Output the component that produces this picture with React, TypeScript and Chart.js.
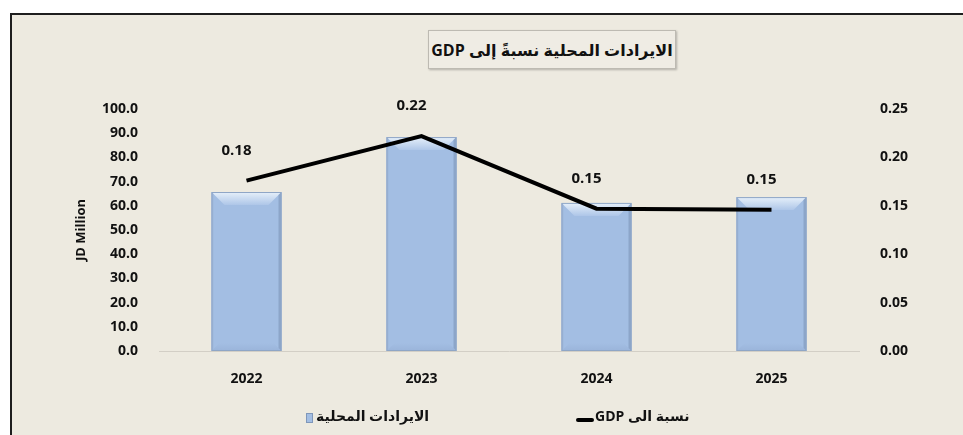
import React, { useEffect, useRef } from "react";
import { Chart, registerables } from "chart.js";

Chart.register(...registerables);

// ---- data ----
const categories = ["2022", "2023", "2024", "2025"];
const revenueValues = [65.7, 88.4, 61.2, 63.6];
const gdpRatioValues = [0.176, 0.222, 0.147, 0.146];
const revenueLabel = "الايرادات المحلية";
const ratioLabel = "نسبة الى GDP";
const titleText = "الايرادات المحلية نسبةً إلى GDP";
const yAxisTitle = "JD Million";
const leftAxisRange = [0, 100, 10];
const rightAxisRange = [0, 0.25, 0.05];

const FONT = "'Open Sans', 'DejaVu Sans', sans-serif";
const BAR_COLOR = "#A3BEE3";

const bevelPlugin = {
  id: "bevel",
  afterDatasetDraw(chart: any, args: any) {
    if (args.index !== 0) return;
    const ctx = chart.ctx;
    const meta = chart.getDatasetMeta(0);
    meta.data.forEach((bar: any) => {
      const { x, y, base, width } = bar.getProps(["x", "y", "base", "width"], true);
      const l = x - width / 2;
      const r = x + width / 2;
      const t = y;
      const b = base;
      const bt = 13;
      ctx.save();
      // top bevel
      const g = ctx.createLinearGradient(0, t, 0, t + bt);
      g.addColorStop(0, "#E6F0FA");
      g.addColorStop(1, "#AEC6E8");
      ctx.fillStyle = g;
      ctx.beginPath();
      ctx.moveTo(l, t);
      ctx.lineTo(r, t);
      ctx.lineTo(r - bt, t + bt);
      ctx.lineTo(l + bt, t + bt);
      ctx.closePath();
      ctx.fill();
      // bottom bevel
      const gb = ctx.createLinearGradient(0, b - 8, 0, b);
      gb.addColorStop(0, "#A3BEE3");
      gb.addColorStop(1, "#9AB4DA");
      ctx.fillStyle = gb;
      ctx.beginPath();
      ctx.moveTo(l, b);
      ctx.lineTo(r, b);
      ctx.lineTo(r - 8, b - 8);
      ctx.lineTo(l + 8, b - 8);
      ctx.closePath();
      ctx.fill();
      // right strip
      ctx.fillStyle = "#8CA5C9";
      ctx.beginPath();
      ctx.moveTo(r, t);
      ctx.lineTo(r, b);
      ctx.lineTo(r - 3, b - 3);
      ctx.lineTo(r - 3, t + 3);
      ctx.closePath();
      ctx.fill();
      // left strip
      ctx.fillStyle = "#9DB7DC";
      ctx.beginPath();
      ctx.moveTo(l, t);
      ctx.lineTo(l, b);
      ctx.lineTo(l + 2, b - 2);
      ctx.lineTo(l + 2, t + 2);
      ctx.closePath();
      ctx.fill();
      ctx.strokeStyle = "#8FA6C6";
      ctx.lineWidth = 1;
      ctx.strokeRect(l + 0.5, t + 0.5, width - 1, b - t - 1);
      ctx.restore();
    });
  },
};

const labelPlugin = {
  id: "pointLabels",
  afterDatasetsDraw(chart: any) {
    const ctx = chart.ctx;
    const meta = chart.getDatasetMeta(1);
    const data = chart.data.datasets[1].data as number[];
    ctx.save();
    ctx.font = `bold 15px ${FONT}`;
    ctx.fillStyle = "#111";
    ctx.textAlign = "center";
    ctx.textBaseline = "middle";
    meta.data.forEach((pt: any, i: number) => {
      ctx.fillText(data[i].toFixed(2), pt.x - 10, pt.y - 30);
    });
    ctx.restore();
  },
};

const legendPlugin = {
  id: "customLegend",
  afterDraw(chart: any) {
    const ctx = chart.ctx;
    const ds = chart.data.datasets;
    const yc = 417;
    ctx.save();
    ctx.font = `bold 14px ${FONT}`;
    ctx.fillStyle = "#111";
    ctx.textBaseline = "middle";
    ctx.direction = "rtl";
    ctx.textAlign = "left";
    // bar item
    ctx.fillStyle = BAR_COLOR;
    ctx.fillRect(306, yc - 4, 7, 10);
    ctx.strokeStyle = "#7F97BA";
    ctx.lineWidth = 1;
    ctx.strokeRect(306.5, yc - 3.5, 6, 9);
    ctx.fillStyle = "#111";
    ctx.fillText(ds[0].label, 316, yc);
    // line item
    ctx.strokeStyle = "#000";
    ctx.lineWidth = 4;
    ctx.lineCap = "round";
    ctx.beginPath();
    ctx.moveTo(578, yc + 3);
    ctx.lineTo(592, yc + 3);
    ctx.stroke();
    ctx.fillText(ds[1].label, 595, yc);
    ctx.restore();
  },
};

export default function App() {
  const ref = useRef<HTMLCanvasElement | null>(null);

  useEffect(() => {
    if (!ref.current) return;
    const chart = new Chart(ref.current, {
      type: "bar",
      data: {
        labels: categories,
        datasets: [
          {
            type: "bar",
            label: revenueLabel,
            data: revenueValues,
            backgroundColor: BAR_COLOR,
            borderWidth: 0,
            categoryPercentage: 1,
            barPercentage: 0.4,
            yAxisID: "y",
            order: 2,
          },
          {
            type: "line",
            label: ratioLabel,
            data: gdpRatioValues,
            borderColor: "#000",
            borderWidth: 4,
            pointRadius: 0,
            tension: 0,
            yAxisID: "y1",
            order: 1,
          },
        ] as any,
      },
      options: {
        responsive: false,
        animation: false,
        devicePixelRatio: 1,
        layout: { padding: { top: 109, left: 0, right: 0, bottom: 0 } },
        plugins: {
          legend: { display: false },
          tooltip: { enabled: false },
          title: { display: false },
        },
        scales: {
          x: {
            grid: { display: false, drawTicks: false },
            border: { display: true, color: "#D3CFC6", width: 1 },
            ticks: {
              color: "#111",
              font: { family: FONT, size: 14, weight: "bold" },
              padding: 20,
            },
            afterFit(scale: any) {
              scale.height = 84;
            },
          },
          y: {
            position: "left",
            min: leftAxisRange[0],
            max: leftAxisRange[1],
            grid: { display: false, drawTicks: false },
            border: { display: false },
            ticks: {
              stepSize: leftAxisRange[2],
              color: "#111",
              font: { family: FONT, size: 14, weight: "bold" },
              padding: 21,
              callback: (v: any) => Number(v).toFixed(1),
            },
            title: {
              display: true,
              text: yAxisTitle,
              color: "#111",
              font: { family: FONT, size: 13, weight: "bold" },
              padding: { top: 73, bottom: 0 },
            },
            afterFit(scale: any) {
              scale.width = 159;
            },
          },
          y1: {
            position: "right",
            min: rightAxisRange[0],
            max: rightAxisRange[1],
            grid: { display: false, drawTicks: false },
            border: { display: false },
            ticks: {
              stepSize: rightAxisRange[2],
              color: "#111",
              font: { family: FONT, size: 14, weight: "bold" },
              padding: 21,
              callback: (v: any) => Number(v).toFixed(2),
            },
            afterFit(scale: any) {
              scale.width = 104;
            },
          },
        },
      } as any,
      plugins: [bevelPlugin, labelPlugin, legendPlugin],
    });
    return () => chart.destroy();
  }, []);

  return (
    <div
      style={{
        position: "fixed",
        left: 0,
        top: 0,
        width: 963,
        height: 435,
        background: "#fff",
        overflow: "hidden",
      }}
    >
      <div
        style={{
          position: "absolute",
          left: 10,
          top: 13,
          width: 960,
          height: 430,
          background: "#EDEAE0",
          borderTop: "2px solid #1E1E1E",
          borderLeft: "2px solid #1E1E1E",
        }}
      />
      <div
        dir="rtl"
        style={{
          position: "absolute",
          left: 428,
          top: 30,
          width: 246,
          height: 37,
          border: "1px solid #BDBAB2",
          background: "#EFECE4",
          boxShadow: "1px 1px 2px rgba(0,0,0,0.25)",
          display: "flex",
          alignItems: "center",
          justifyContent: "center",
          fontFamily: FONT,
          fontWeight: "bold",
          fontSize: 16,
          color: "#111",
          whiteSpace: "nowrap",
        }}
      >
        {titleText}
      </div>
      <canvas
        ref={ref}
        width={963}
        height={435}
        style={{ position: "absolute", left: 0, top: 0, width: 963, height: 435 }}
      />
    </div>
  );
}
